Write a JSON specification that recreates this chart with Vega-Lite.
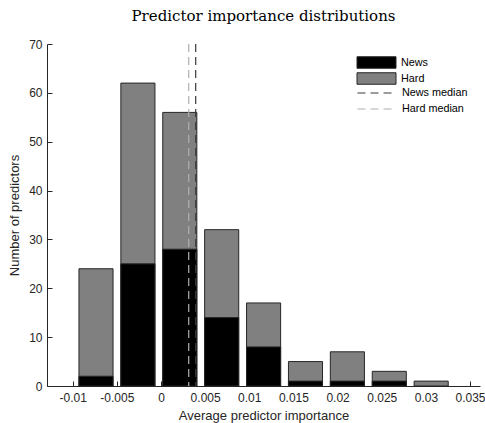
{
  "$schema": "https://vega.github.io/schema/vega-lite/v6.json",
  "autosize": {"type": "none"},
  "width": 433,
  "height": 342,
  "padding": {"left": 47, "top": 44, "right": 5, "bottom": 37},
  "background": "white",
  "config": {
    "view": {"stroke": null},
    "font": "Liberation Sans",
    "axis": {
      "domainColor": "#262626",
      "tickColor": "#262626",
      "labelColor": "#262626",
      "titleColor": "#262626",
      "labelFont": "Liberation Sans",
      "titleFont": "Liberation Sans",
      "labelFontSize": 12,
      "titleFontSize": 13,
      "titleFontWeight": "normal",
      "grid": false,
      "tickSize": -5,
      "domainWidth": 1,
      "tickWidth": 1
    },
    "legend": {
      "labelFont": "Liberation Sans",
      "labelFontSize": 10.8,
      "labelColor": "#000000",
      "padding": 0
    }
  },
  "title": {
    "text": "Predictor importance distributions",
    "font": "DejaVu Serif",
    "fontSize": 15,
    "fontWeight": "normal",
    "color": "#000000",
    "anchor": "middle",
    "offset": 14
  },
  "datasets": {
    "bars": [
      {"series": "Hard", "lo": -0.00929, "hi": -0.00543, "count": 24},
      {"series": "Hard", "lo": -0.004545, "hi": -0.000685, "count": 62},
      {"series": "Hard", "lo": 0.0002, "hi": 0.00406, "count": 56},
      {"series": "Hard", "lo": 0.004945, "hi": 0.008805, "count": 32},
      {"series": "Hard", "lo": 0.00969, "hi": 0.01355, "count": 17},
      {"series": "Hard", "lo": 0.014435, "hi": 0.018295, "count": 5},
      {"series": "Hard", "lo": 0.01918, "hi": 0.02304, "count": 7},
      {"series": "Hard", "lo": 0.023925, "hi": 0.027785, "count": 3},
      {"series": "Hard", "lo": 0.02867, "hi": 0.03253, "count": 1},
      {"series": "News", "lo": -0.00929, "hi": -0.00543, "count": 2},
      {"series": "News", "lo": -0.004545, "hi": -0.000685, "count": 25},
      {"series": "News", "lo": 0.0002, "hi": 0.00406, "count": 28},
      {"series": "News", "lo": 0.004945, "hi": 0.008805, "count": 14},
      {"series": "News", "lo": 0.00969, "hi": 0.01355, "count": 8},
      {"series": "News", "lo": 0.014435, "hi": 0.018295, "count": 1},
      {"series": "News", "lo": 0.01918, "hi": 0.02304, "count": 1},
      {"series": "News", "lo": 0.023925, "hi": 0.027785, "count": 1}
    ],
    "medians": [
      {"line": "News median", "value": 0.00393},
      {"line": "Hard median", "value": 0.00314}
    ]
  },
  "layer": [
    {
      "data": {"name": "bars"},
      "transform": [{"filter": "datum.series === 'Hard'"}],
      "mark": {"type": "bar", "stroke": "#262626", "strokeWidth": 1},
      "encoding": {
        "x": {
          "field": "lo", "type": "quantitative",
          "scale": {"domain": [-0.01291, 0.03613], "nice": false, "zero": false},
          "axis": {
            "title": "Average predictor importance",
            "values": [-0.01, -0.005, 0, 0.005, 0.01, 0.015, 0.02, 0.025, 0.03, 0.035],
            "labelExpr": "replace(format(datum.value, '.3~f'), '\u2212', '-')",
            "labelPadding": 11,
            "titlePadding": 6
          }
        },
        "x2": {"field": "hi"},
        "y": {
          "field": "count", "type": "quantitative", "stack": null,
          "scale": {"domain": [0, 70], "nice": false},
          "axis": {
            "title": "Number of predictors",
            "values": [0, 10, 20, 30, 40, 50, 60, 70],
            "labelPadding": 10,
            "titlePadding": 7
          }
        },
        "y2": {"datum": 0},
        "fill": {
          "field": "series", "type": "nominal",
          "scale": {"domain": ["News", "Hard"], "range": ["#000000", "#808080"]},
          "legend": {
            "title": null,
            "orient": "none",
            "legendX": 324,
            "legendY": 13,
            "symbolType": "M-3.9,-1.15H3.9V1.15H-3.9Z",
            "symbolSize": 100,
            "symbolStrokeColor": "#262626",
            "symbolStrokeWidth": 1,
            "labelOffset": 19,
            "rowPadding": -1
          }
        }
      }
    },
    {
      "data": {"name": "bars"},
      "transform": [{"filter": "datum.series === 'News'"}],
      "mark": {"type": "bar", "stroke": "#262626", "strokeWidth": 1},
      "encoding": {
        "x": {"field": "lo", "type": "quantitative"},
        "x2": {"field": "hi"},
        "y": {"field": "count", "type": "quantitative", "stack": null},
        "y2": {"datum": 0},
        "fill": {"field": "series", "type": "nominal"}
      }
    },
    {
      "data": {"name": "medians"},
      "mark": {"type": "rule", "strokeWidth": 1.2},
      "encoding": {
        "x": {"field": "value", "type": "quantitative"},
        "stroke": {
          "field": "line", "type": "nominal",
          "scale": {"domain": ["News median", "Hard median"], "range": ["#3a3a3a", "#b0b0b0"]},
          "legend": {
            "title": null,
            "orient": "none",
            "legendX": 324,
            "legendY": 43,
            "symbolType": "M-3.9,0H3.9",
            "symbolSize": 100,
            "symbolStrokeWidth": 1.2,
            "labelOffset": 19,
            "rowPadding": 5
          }
        },
        "strokeDash": {
          "field": "line", "type": "nominal",
          "scale": {"domain": ["News median", "Hard median"], "range": [[8, 5], [8, 5]]},
          "legend": {
            "title": null,
            "orient": "none",
            "legendX": 324,
            "legendY": 43,
            "symbolType": "M-3.9,0H3.9",
            "symbolSize": 100,
            "symbolStrokeWidth": 1.2,
            "labelOffset": 19,
            "rowPadding": 5
          }
        }
      }
    }
  ]
}
